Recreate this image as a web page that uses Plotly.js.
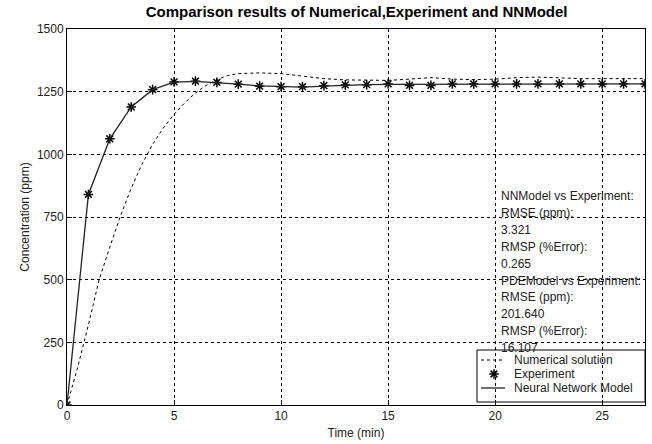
<!DOCTYPE html>
<html><head><meta charset="utf-8">
<script src="https://cdn.plot.ly/plotly-3.0.1.min.js"></script>
<style>html,body{margin:0;padding:0;background:#fff}#chart{width:652px;height:444px}</style>
</head><body><div id="chart"></div>
<script>
const numT = [0, 0.5, 1, 1.5, 2, 2.5, 3, 3.5, 4, 4.5, 5, 5.5, 6, 6.5, 7, 7.5, 8, 9, 10, 11, 12, 13, 14, 15, 16, 17, 18, 19, 20, 21, 22, 23, 24, 25, 26, 27];
const numC = [0, 150, 320, 500, 630, 755, 865, 960, 1040, 1105, 1160, 1205, 1245, 1275, 1298, 1314, 1322, 1325, 1322, 1312, 1302, 1297, 1295, 1295, 1300, 1306, 1300, 1298, 1300, 1306, 1308, 1304, 1302, 1302, 1302, 1302];
const expT = [0,1,2,3,4,5,6,7,8,9,10,11,12,13,14,15,16,17,18,19,20,21,22,23,24,25,26,27];
const expC = [0, 840, 1062, 1189, 1258, 1289, 1292, 1287, 1280, 1272, 1270, 1270, 1274, 1277, 1278, 1281, 1275, 1275, 1281, 1281, 1281, 1281, 1281, 1281, 1281, 1281, 1281, 1281];
const nnC  = [0, 840, 1062, 1189, 1258, 1288, 1291, 1286, 1280, 1273, 1270, 1268, 1272, 1276, 1278, 1279, 1279, 1279, 1280, 1280, 1281, 1281, 1281, 1281, 1281, 1281, 1281, 1281];
const statLines = ["NNModel vs Experiment:", "RMSE (ppm):", "3.321", "RMSP (%Error):", "0.265", "PDEModel vs Experiment:", "RMSE (ppm):", "201.640", "RMSP (%Error):", "16.107"];
const legendNames = ["Numerical solution", "Experiment", "Neural Network Model"];

const FONT = 'Arial, Liberation Sans, sans-serif';
// plot area: x 67..645 px, y 29..405 px
const px = v => (v - 67) / 578;
const py = v => (405 - v) / 376;

const lineStyles = [
  {color: '#000', width: 1, dash: '3px,3px'},
  null,
  {color: '#222', width: 1.3}
];
const markerStyle = {symbol: 'asterisk-open', size: 8, color: '#000', line: {color: '#000', width: 1.5}};

const traces = [
  {x: numT, y: numC, mode: 'lines', name: legendNames[0], line: lineStyles[0]},
  {x: expT, y: expC, mode: 'markers', name: legendNames[1], marker: markerStyle},
  {x: expT, y: nnC, mode: 'lines', name: legendNames[2], line: lineStyles[2]},
  // legend sample marker (on a hidden 0..1 overlay axis)
  {x: [px(494)], y: [py(374)], xaxis: 'x2', yaxis: 'y2', mode: 'markers', marker: markerStyle, hoverinfo: 'skip'}
];

const rowsY = [360, 374, 388];
const annotations = statLines.map((t, i) => ({
  text: t, xref: 'x', yref: 'paper', x: 20.2, xanchor: 'left',
  y: py(196 + i * 16.9), yanchor: 'middle', showarrow: false,
  font: {family: FONT, size: 12, color: '#222'}
})).concat(legendNames.map((t, i) => ({
  text: t, xref: 'paper', yref: 'paper', x: px(512), xanchor: 'left',
  y: py(rowsY[i]), yanchor: 'middle', showarrow: false,
  font: {family: FONT, size: 12, color: '#222'}
})));

const shapes = [
  {type: 'rect', xref: 'paper', yref: 'paper', x0: px(477), x1: px(645), y0: py(402), y1: py(350),
   line: {color: '#000', width: 1}, fillcolor: '#fff', layer: 'between'},
  {type: 'line', xref: 'paper', yref: 'paper', x0: px(481), x1: px(505), y0: py(rowsY[0]), y1: py(rowsY[0]), line: lineStyles[0]},
  {type: 'line', xref: 'paper', yref: 'paper', x0: px(481), x1: px(505), y0: py(rowsY[2]), y1: py(rowsY[2]), line: lineStyles[2]}
];

const axisCommon = {
  showline: true, mirror: true, linecolor: '#000', linewidth: 1,
  ticks: 'inside', ticklen: 5, tickcolor: '#000',
  showgrid: true, gridcolor: '#000', gridwidth: 1, griddash: '3px,3px',
  zeroline: false, tickfont: {family: FONT, size: 12, color: '#222'}
};

const layout = {
  width: 652, height: 444,
  margin: {l: 67, r: 7, t: 29, b: 39},
  paper_bgcolor: '#fff', plot_bgcolor: '#fff',
  title: {text: 'Comparison results of Numerical,Experiment and NNModel', x: 0.547, xanchor: 'center', y: 0.973, yanchor: 'middle',
          font: {family: FONT, size: 15, color: '#000', weight: 'bold'}},
  xaxis: Object.assign({}, axisCommon, {range: [0, 27], dtick: 5, tick0: 0,
          title: {text: 'Time (min)', standoff: 6, font: {family: FONT, size: 12, color: '#222'}}}),
  yaxis: Object.assign({}, axisCommon, {range: [0, 1500], dtick: 250, tick0: 0,
          title: {text: 'Concentration (ppm)', standoff: 4, font: {family: FONT, size: 12, color: '#222'}}}),
  xaxis2: {overlaying: 'x', range: [0, 1], visible: false, fixedrange: true},
  yaxis2: {overlaying: 'y', range: [0, 1], visible: false, fixedrange: true},
  showlegend: false,
  shapes: shapes,
  annotations: annotations
};

Plotly.newPlot('chart', traces, layout, {displayModeBar: false, staticPlot: true});
</script>
</body></html>
